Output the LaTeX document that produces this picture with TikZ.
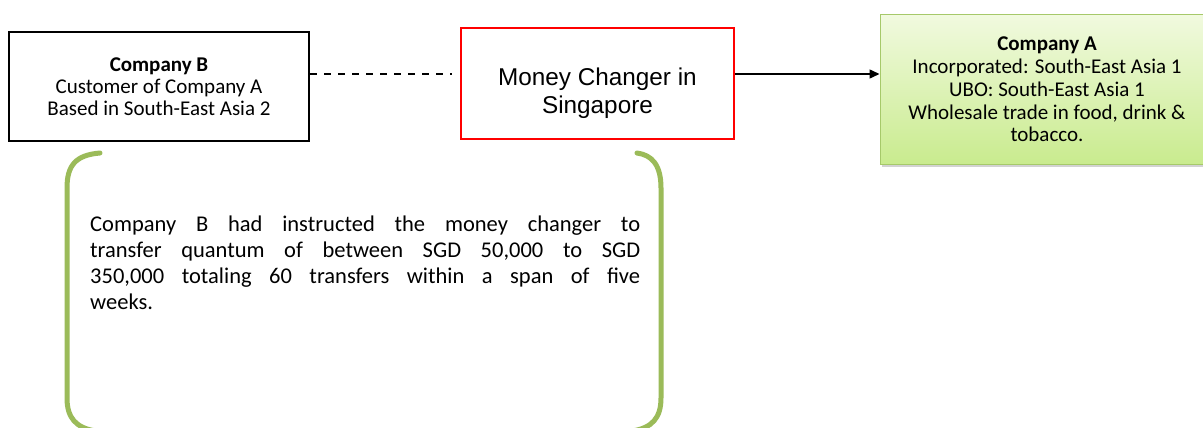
\documentclass[tikz,border=0pt]{standalone}
\usepackage{fontspec}
\setmainfont{Carlito}
\newfontfamily\arialfont{Liberation Sans}
\usetikzlibrary{arrows.meta,shadows}
\definecolor{brgreen}{HTML}{9BBB59}
\definecolor{boxgreentop}{HTML}{F1FADF}
\definecolor{boxgreenbot}{HTML}{C9EB8E}
\definecolor{boxgreenline}{HTML}{A6C96A}
\tikzset{
  plainbox/.style={draw=black, line width=2pt, minimum width=300pt, minimum height=108pt, align=center,
    font=\fontsize{21}{22}\selectfont},
  changerbox/.style={draw=red, line width=2.6pt, minimum width=273pt, minimum height=111pt,
    font=\arialfont\fontsize{24.3}{28}\selectfont},
  greenbox/.style={draw=boxgreenline, line width=1pt, top color=boxgreentop, bottom color=boxgreenbot,
    minimum width=334pt, minimum height=150pt, align=center, font=\fontsize{21}{22.7}\selectfont,
    drop shadow={shadow xshift=1.5pt, shadow yshift=-2.5pt, opacity=0.35}},
  bracket/.style={draw=brgreen, line width=5pt, line cap=round},
  note/.style={text width=550pt, align=justify, inner sep=0pt, anchor=north west,
    font=\fontsize{22.5}{26}\selectfont},
}
\begin{document}
\begin{tikzpicture}[x=1pt, y=-1pt]
  \useasboundingbox (0,0) rectangle (1203,428);
  \fill[white] (0,0) rectangle (1203,428);

  % entity boxes
  \node[plainbox] (compB) at (159,86.5) {\textbf{Company B}\\Customer of Company A\\Based in South-East Asia 2};
  \node[changerbox] (changer) at (597.5,83.5)
    {\raisebox{-17pt}[0pt][0pt]{\begin{tabular}{@{}c@{}}Money Changer in\\Singapore\end{tabular}}};
  \node[greenbox] (compA) at (1047,89.5) {\textbf{Company A}\\Incorporated: South-East Asia 1\\UBO: South-East Asia 1\\Wholesale trade in food, drink \&\\tobacco.};

  % connectors
  \coordinate (dashend) at (452,74);
  \draw[line width=1.5pt, dash pattern=on 7pt off 7pt] (compB.east |- dashend) -- (dashend);
  \draw[line width=1.5pt, -{Triangle[length=10pt,width=9pt]}] (changer.east |- 0,74) -- (compA.west |- 0,74);

  % bracket frame around the note
  \draw[bracket] (100,153) .. controls (76,155) and (67,165) .. (67,188) -- (67,398)
     .. controls (67,418) and (76,428) .. (96,431);
  \draw[bracket] (637,153) .. controls (652,155) and (661,165) .. (661,188) -- (661,398)
     .. controls (661,418) and (652,428) .. (632,431);

  \node[note] (note) at (90,216) {Company B had instructed the money changer to\linebreak
    transfer quantum of between SGD 50,000 to SGD\linebreak
    350,000 totaling 60 transfers within a span of five\linebreak
    weeks.};
\end{tikzpicture}
\end{document}
